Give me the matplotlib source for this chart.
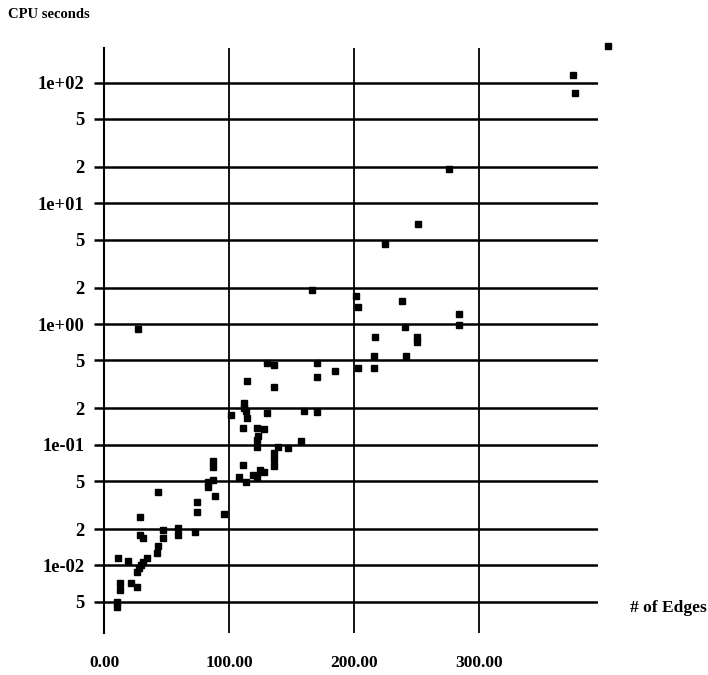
import numpy as np
from matplotlib import pyplot as plt

# number of edges vs CPU time
edges = [10.4, 10.4, 11.2, 12.8, 12.8, 19.2, 21.6, 26.4, 28.8, 28.8,
         31.2, 26.4, 28.0, 29.6, 31.2, 34.4, 43.2, 43.2, 42.4, 47.2,
         47.2, 59.2, 59.2, 72.8, 74.4, 74.4, 83.2, 83.2, 87.2, 87.2,
         87.2, 88.8, 96.0, 108.0, 111.2, 113.6, 119.2, 122.4, 124.8, 128.0,
         122.4, 122.4, 136.0, 136.0, 136.0, 101.6, 112.0, 112.0, 113.6, 114.4,
         130.4, 111.2, 122.4, 128.0, 123.2, 139.2, 147.2, 157.6, 160.0, 170.4,
         114.4, 130.4, 136.0, 136.0, 170.4, 170.4, 184.8, 203.2, 216.0, 216.0,
         216.8, 241.6, 240.8, 250.4, 250.4, 284.0, 284.0, 238.4, 201.6, 203.2,
         166.4, 27.2, 224.8, 251.2, 276.0, 375.2, 376.8, 403.2]
cpu = [0.0050, 0.0045, 0.0115, 0.00715, 0.00625, 0.0109, 0.00715, 0.00662, 0.0252, 0.0179,
       0.0169, 0.0088, 0.0095, 0.0101, 0.0107, 0.0115, 0.0406, 0.0145, 0.0127, 0.0196,
       0.0169, 0.0204, 0.0179, 0.0189, 0.0335, 0.0277, 0.0446, 0.0491, 0.0510, 0.0733,
       0.0654, 0.0376, 0.0267, 0.0540, 0.0679, 0.0491, 0.0561, 0.0540, 0.0617, 0.0594,
       0.0957, 0.1094, 0.0853, 0.0762, 0.0666, 0.176, 0.2215, 0.2014, 0.190, 0.166,
       0.183, 0.1375, 0.1375, 0.135, 0.118, 0.0957, 0.0939, 0.107, 0.190, 0.187,
       0.337, 0.475, 0.457, 0.301, 0.475, 0.364, 0.408, 0.432, 0.543, 0.432,
       0.780, 0.543, 0.944, 0.780, 0.709, 1.21, 0.981, 1.55, 1.71, 1.38,
       1.91, 0.909, 4.60, 6.74, 19.2, 115.6, 82.0, 201.0]

ytick_vals = [100, 50, 20, 10, 5, 2, 1, 0.5, 0.2, 0.1, 0.05, 0.02, 0.01, 0.005]
ytick_text = ["1e+02", "5", "2", "1e+01", "5", "2", "1e+00", "5", "2",
              "1e-01", "5", "2", "1e-02", "5"]
xtick_vals = [0, 100, 200, 300]
xtick_text = ["0.00", "100.00", "200.00", "300.00"]

plt.rcParams['font.family'] = ['Liberation Serif', 'DejaVu Serif']

fig = plt.figure(figsize=(7.08, 6.75), dpi=100)
ax = fig.add_axes([0.1469, 0.0622, 0.6977, 0.8667])

ax.set_yscale('log')
ax.set_xlim(0, 395.2)
ax.set_ylim(0.002754, 193.6)

for v in ytick_vals:
    ax.axhline(v, color='black', lw=1.8, zorder=1)
for v in xtick_vals[1:]:
    ax.axvline(v, color='black', lw=1.3, zorder=1)

ax.plot(edges, cpu, 's', color='black', markersize=5, clip_on=False, zorder=3)

ax.set_yticks(ytick_vals)
ax.set_yticklabels(ytick_text)
ax.yaxis.set_minor_locator(plt.NullLocator())
ax.set_xticks(xtick_vals)
ax.set_xticklabels(xtick_text)

ax.tick_params(axis='y', direction='out', length=7, width=1.8, pad=7, labelsize=13.3)
ax.tick_params(axis='x', length=0, pad=16, labelsize=12.5)
for lab in ax.get_yticklabels() + ax.get_xticklabels():
    lab.set_fontweight('bold')

for s in ['top', 'right', 'bottom']:
    ax.spines[s].set_visible(False)
ax.spines['left'].set_linewidth(1.5)

fig.text(8 / 708, 1 - 14 / 675, "CPU seconds", fontsize=10.5, fontweight='bold', va='center', ha='left')
fig.text(0.998, 1 - 608 / 675, "# of Edges", fontsize=12.5, fontweight='bold', va='center', ha='right')

fig.savefig('out.png', dpi=100)
